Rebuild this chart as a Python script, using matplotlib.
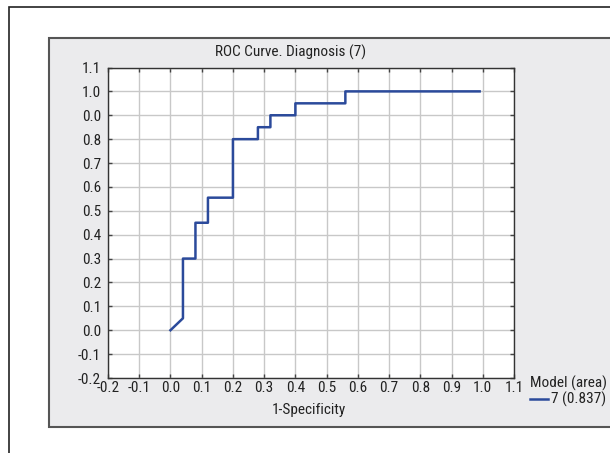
import matplotlib.pyplot as plt
from matplotlib.patches import Rectangle
from matplotlib.lines import Line2D
from matplotlib import font_manager

# ROC curve points (1-specificity, sensitivity)
fpr = [0.0, 0.04, 0.04, 0.08, 0.08, 0.12, 0.12, 0.20, 0.20, 0.28, 0.28,
       0.32, 0.32, 0.40, 0.40, 0.56, 0.56, 0.99]
tpr = [0.0, 0.05, 0.30, 0.30, 0.45, 0.45, 0.555, 0.555, 0.80, 0.80, 0.85,
       0.85, 0.90, 0.90, 0.95, 0.95, 1.0, 1.0]

xticks = [-0.2, -0.1, 0.0, 0.1, 0.2, 0.3, 0.4, 0.5, 0.6, 0.7, 0.8, 0.9, 1.0, 1.1]
yticks = [-0.2, -0.1, 0.0, 0.1, 0.2, 0.3, 0.4, 0.5, 0.6, 0.7, 0.8, 0.9, 1.0, 1.1]
ytick_labels = ["-0.2", "-0.1", "0.0", "0.1", "0.2", "0.3", "0.4", "0.5",
                "0.6", "0.7", "0.8", "0.0", "1.0", "1.1"]

# pick a narrow face if one is there
names = {f.name for f in font_manager.fontManager.ttflist}
narrow = [n for n in ['Liberation Sans Narrow', 'Roboto Condensed', 'Open Sans Condensed',
                      'DejaVu Sans Condensed'] if n in names]
if narrow:
    plt.rcParams['font.family'] = [narrow[0], 'DejaVu Sans']
else:
    plt.rcParams['font.family'] = ['DejaVu Sans']
    plt.rcParams['font.stretch'] = 'condensed'
FS = 11

W, H = 610, 453
fig = plt.figure(figsize=(W / 100, H / 100), dpi=100)
fig.patch.set_facecolor('white')

def fx(px):
    return px / W

def fy(py):
    return 1 - py / H

# outer black frame
fig.patches.append(Rectangle((fx(8.5), fy(470)), 1.2, (470 - 6.5) / H,
                             transform=fig.transFigure, facecolor='white',
                             edgecolor='#222222', lw=1.2, zorder=0))
# grey panel
fig.patches.append(Rectangle((fx(48.7), fy(427)), 1.2, (427 - 38) / H,
                             transform=fig.transFigure, facecolor='#ebebed',
                             edgecolor='#555555', lw=1.5, zorder=1))

ax = fig.add_axes([fx(108), fy(378), (514 - 108) / W, (378 - 67.5) / H])
ax.set_facecolor('white')
ax.set_zorder(2)

ax.plot(fpr, tpr, color='#2b4a9b', lw=1.8, zorder=3)

ax.set_xlim(-0.2, 1.1)
ax.set_ylim(-0.2, 1.1)
ax.set_xticks(xticks)
ax.set_xticklabels([f"{v:.1f}" for v in xticks])
ax.set_yticks(yticks)
ax.set_yticklabels(ytick_labels)
ax.grid(True, color='#c8c8c8', lw=1.0, zorder=1)
ax.set_axisbelow(True)
ax.tick_params(direction='in', length=3, width=1, color='#444444',
               top=True, right=True, labelsize=FS, labelcolor='#222222')
ax.tick_params(axis='y', pad=5)
ax.tick_params(axis='x', pad=2)
for s in ax.spines.values():
    s.set_color('#333333')
    s.set_linewidth(1.0)

fig.text(fx(291), fy(52), "ROC Curve. Diagnosis (7)", ha='center', va='center',
         fontsize=FS, color='#222222', zorder=5)
fig.text(fx(309), fy(410), "1-Specificity", ha='center', va='center',
         fontsize=FS, color='#222222', zorder=5)

# legend
fig.text(fx(607), fy(383), "Model (area)", ha='right', va='center',
         fontsize=FS, color='#222222', zorder=5)
fig.lines.append(Line2D([fx(530), fx(548)], [fy(399), fy(399)],
                        transform=fig.transFigure, color='#2b4a9b', lw=1.8, zorder=5))
fig.text(fx(551), fy(399), "7 (0.837)", ha='left', va='center',
         fontsize=FS, color='#222222', zorder=5)

fig.savefig('out.png', dpi=100)
